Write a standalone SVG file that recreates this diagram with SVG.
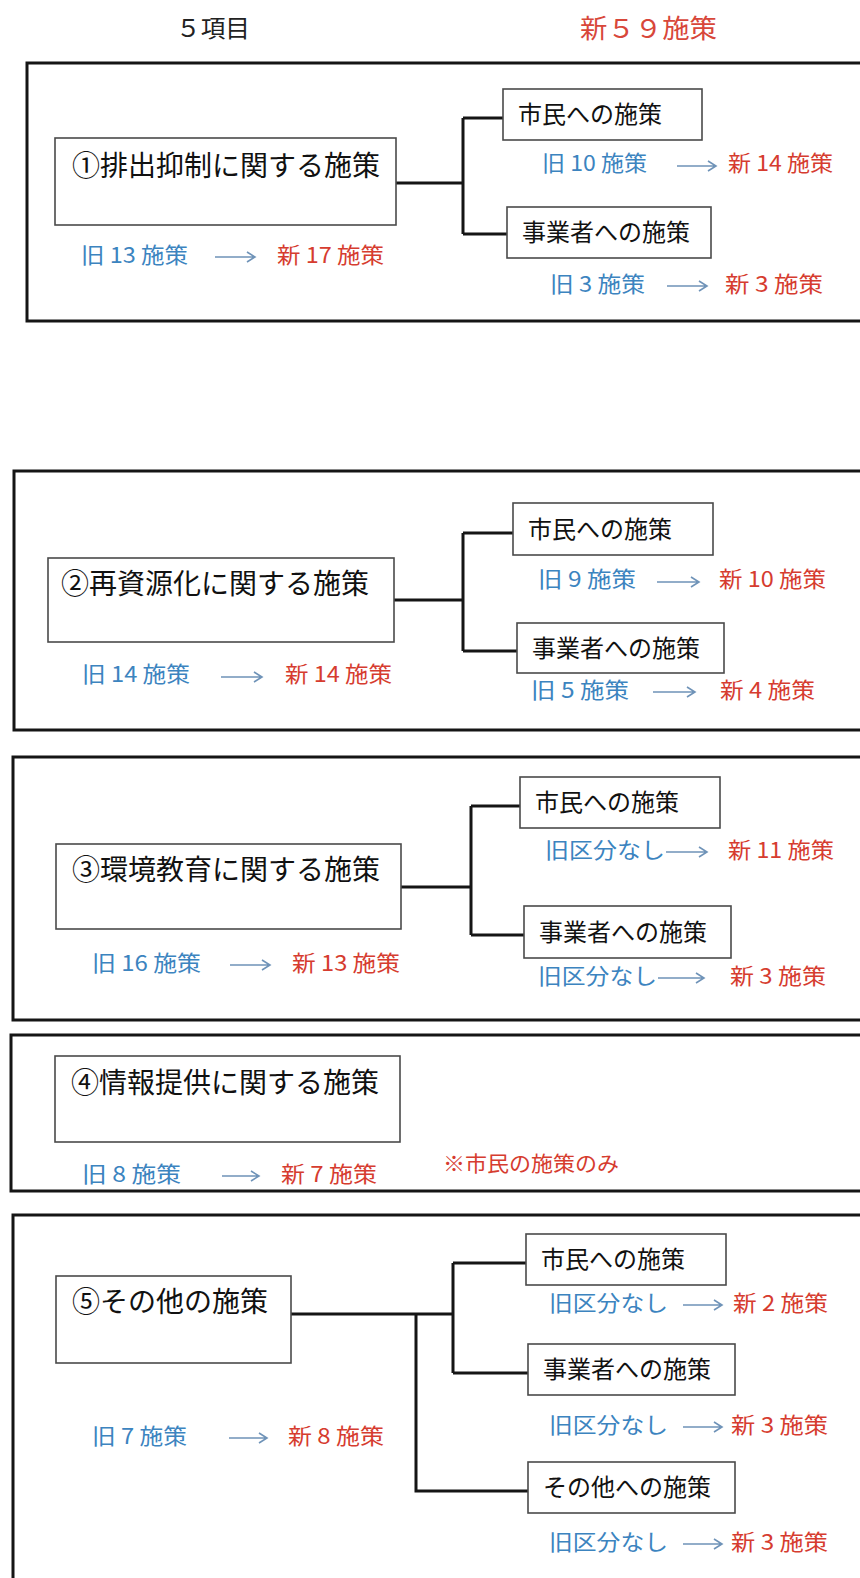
<svg xmlns="http://www.w3.org/2000/svg" width="860" height="1578" viewBox="0 0 860 1578">
<defs>
<style>
.t{font-family:"Noto Sans CJK JP","Noto Sans CJK SC",sans-serif;}
.hd{font-size:24px;fill:#222;}
.hr{font-size:26px;fill:#d8473a;}
.mt{font-size:28px;fill:#111;}
.ct{font-size:24px;fill:#111;}
.b{font-size:22px;fill:#3c84bf;}
.r{font-size:22px;fill:#d63c2f;}
.n{font-size:21px;fill:#d63c2f;}
.outer{fill:none;stroke:#151515;stroke-width:3;}
.box{fill:#fff;stroke:#4a4a4a;stroke-width:1.6;}
.con{fill:none;stroke:#151515;stroke-width:3;}
.arr{fill:none;stroke:#6f93b8;stroke-width:1.6;}
</style>
</defs>
<rect width="860" height="1578" fill="#fff"/>

<g id="header">
<text class="t hd" x="176" y="37" textLength="74" lengthAdjust="spacingAndGlyphs">５項目</text>
<text class="t hr" x="580" y="38" textLength="137" lengthAdjust="spacingAndGlyphs">新５９施策</text>
</g>

<g id="frames">
<rect class="outer" x="27" y="63" width="850" height="258"/>
<rect class="outer" x="14" y="471" width="863" height="259"/>
<rect class="outer" x="13" y="757" width="864" height="263"/>
<rect class="outer" x="11" y="1035" width="866" height="156"/>
<rect class="outer" x="13" y="1215" width="864" height="380"/>
</g>

<g id="connectors">
<path class="con" d="M396 183 H463 M463 118 V234 M463 118 H503 M463 234 H507"/>
<path class="con" d="M394 600 H463 M463 533 V651 M463 533 H513 M463 651 H517"/>
<path class="con" d="M401 887 H471 M471 806 V935 M471 806 H520 M471 935 H524"/>
<path class="con" d="M291 1314 H453 M453 1263 V1373 M453 1263 H526 M453 1373 H528 M416 1314 V1491 H528"/>
</g>

<g id="arrows">
<path class="arr" d="M677 166 H716 M708 161 L716 166 L708 171"/>
<path class="arr" d="M215 257 H255 M247 252 L255 257 L247 262"/>
<path class="arr" d="M667 286 H707 M699 281 L707 286 L699 291"/>
<path class="arr" d="M657 582 H699 M691 577 L699 582 L691 587"/>
<path class="arr" d="M653 692 H695 M687 687 L695 692 L687 697"/>
<path class="arr" d="M221 677 H262 M254 672 L262 677 L254 682"/>
<path class="arr" d="M666 852 H707 M699 847 L707 852 L699 857"/>
<path class="arr" d="M658 978 H704 M696 973 L704 978 L696 983"/>
<path class="arr" d="M230 965 H270 M262 960 L270 965 L262 970"/>
<path class="arr" d="M222 1176 H259 M251 1171 L259 1176 L251 1181"/>
<path class="arr" d="M683 1305 H722 M714 1300 L722 1305 L714 1310"/>
<path class="arr" d="M683 1427 H722 M714 1422 L722 1427 L714 1432"/>
<path class="arr" d="M683 1544 H722 M714 1539 L722 1544 L714 1549"/>
<path class="arr" d="M229 1438 H267 M259 1433 L267 1438 L259 1443"/>
</g>

<g id="sec1">
<g id="s1-main"><rect class="box" x="55" y="138" width="341" height="87"/><text class="t mt" x="72" y="176">①排出抑制に関する施策</text></g>
<g id="s1-citizen"><rect class="box" x="503" y="89" width="199" height="51"/><text class="t ct" x="518" y="123">市民への施策</text></g>
<g id="s1-business"><rect class="box" x="507" y="207" width="204" height="51"/><text class="t ct" x="522" y="241">事業者への施策</text></g>
<text class="t b" x="542" y="171" textLength="105" lengthAdjust="spacingAndGlyphs">旧 10 施策</text>
<text class="t r" x="728" y="171" textLength="105" lengthAdjust="spacingAndGlyphs">新 14 施策</text>
<text class="t b" x="81" y="263" textLength="107" lengthAdjust="spacingAndGlyphs">旧 13 施策</text>
<text class="t r" x="277" y="263" textLength="107" lengthAdjust="spacingAndGlyphs">新 17 施策</text>
<text class="t b" x="550" y="292" textLength="95" lengthAdjust="spacingAndGlyphs">旧 3 施策</text>
<text class="t r" x="725" y="292" textLength="98" lengthAdjust="spacingAndGlyphs">新 3 施策</text>
</g>

<g id="sec2">
<g id="s2-main"><rect class="box" x="48" y="558" width="346" height="84"/><text class="t mt" x="61" y="594">②再資源化に関する施策</text></g>
<g id="s2-citizen"><rect class="box" x="513" y="503" width="200" height="52"/><text class="t ct" x="528" y="538">市民への施策</text></g>
<g id="s2-business"><rect class="box" x="517" y="623" width="207" height="50"/><text class="t ct" x="532" y="657">事業者への施策</text></g>
<text class="t b" x="538" y="587" textLength="98" lengthAdjust="spacingAndGlyphs">旧 9 施策</text>
<text class="t r" x="719" y="587" textLength="107" lengthAdjust="spacingAndGlyphs">新 10 施策</text>
<text class="t b" x="531" y="698" textLength="98" lengthAdjust="spacingAndGlyphs">旧 5 施策</text>
<text class="t r" x="720" y="698" textLength="95" lengthAdjust="spacingAndGlyphs">新 4 施策</text>
<text class="t b" x="82" y="682" textLength="108" lengthAdjust="spacingAndGlyphs">旧 14 施策</text>
<text class="t r" x="285" y="682" textLength="107" lengthAdjust="spacingAndGlyphs">新 14 施策</text>
</g>

<g id="sec3">
<g id="s3-main"><rect class="box" x="56" y="844" width="345" height="85"/><text class="t mt" x="72" y="880">③環境教育に関する施策</text></g>
<g id="s3-citizen"><rect class="box" x="520" y="777" width="200" height="51"/><text class="t ct" x="535" y="811">市民への施策</text></g>
<g id="s3-business"><rect class="box" x="524" y="906" width="207" height="52"/><text class="t ct" x="539" y="941">事業者への施策</text></g>
<text class="t b" x="545" y="858" textLength="120" lengthAdjust="spacingAndGlyphs">旧区分なし</text>
<text class="t r" x="728" y="858" textLength="106" lengthAdjust="spacingAndGlyphs">新 11 施策</text>
<text class="t b" x="538" y="984" textLength="119" lengthAdjust="spacingAndGlyphs">旧区分なし</text>
<text class="t r" x="730" y="984" textLength="96" lengthAdjust="spacingAndGlyphs">新 3 施策</text>
<text class="t b" x="92" y="971" textLength="109" lengthAdjust="spacingAndGlyphs">旧 16 施策</text>
<text class="t r" x="292" y="971" textLength="108" lengthAdjust="spacingAndGlyphs">新 13 施策</text>
</g>

<g id="sec4">
<g id="s4-main"><rect class="box" x="55" y="1056" width="345" height="86"/><text class="t mt" x="71" y="1093">④情報提供に関する施策</text></g>
<text class="t b" x="82" y="1182" textLength="99" lengthAdjust="spacingAndGlyphs">旧 8 施策</text>
<text class="t r" x="281" y="1182" textLength="96" lengthAdjust="spacingAndGlyphs">新 7 施策</text>
<text class="t n" x="443" y="1171" textLength="176" lengthAdjust="spacingAndGlyphs">※市民の施策のみ</text>
</g>

<g id="sec5">
<g id="s5-main"><rect class="box" x="56" y="1276" width="235" height="87"/><text class="t mt" x="72" y="1312">⑤その他の施策</text></g>
<g id="s5-citizen"><rect class="box" x="526" y="1234" width="200" height="51"/><text class="t ct" x="541" y="1268">市民への施策</text></g>
<g id="s5-business"><rect class="box" x="528" y="1344" width="207" height="51"/><text class="t ct" x="543" y="1378">事業者への施策</text></g>
<g id="s5-other"><rect class="box" x="528" y="1462" width="207" height="51"/><text class="t ct" x="543" y="1496">その他への施策</text></g>
<text class="t b" x="549" y="1311" textLength="119" lengthAdjust="spacingAndGlyphs">旧区分なし</text>
<text class="t r" x="733" y="1311" textLength="95" lengthAdjust="spacingAndGlyphs">新 2 施策</text>
<text class="t b" x="549" y="1433" textLength="119" lengthAdjust="spacingAndGlyphs">旧区分なし</text>
<text class="t r" x="731" y="1433" textLength="97" lengthAdjust="spacingAndGlyphs">新 3 施策</text>
<text class="t b" x="549" y="1550" textLength="119" lengthAdjust="spacingAndGlyphs">旧区分なし</text>
<text class="t r" x="731" y="1550" textLength="97" lengthAdjust="spacingAndGlyphs">新 3 施策</text>
<text class="t b" x="92" y="1444" textLength="95" lengthAdjust="spacingAndGlyphs">旧 7 施策</text>
<text class="t r" x="288" y="1444" textLength="96" lengthAdjust="spacingAndGlyphs">新 8 施策</text>
</g>
</svg>
